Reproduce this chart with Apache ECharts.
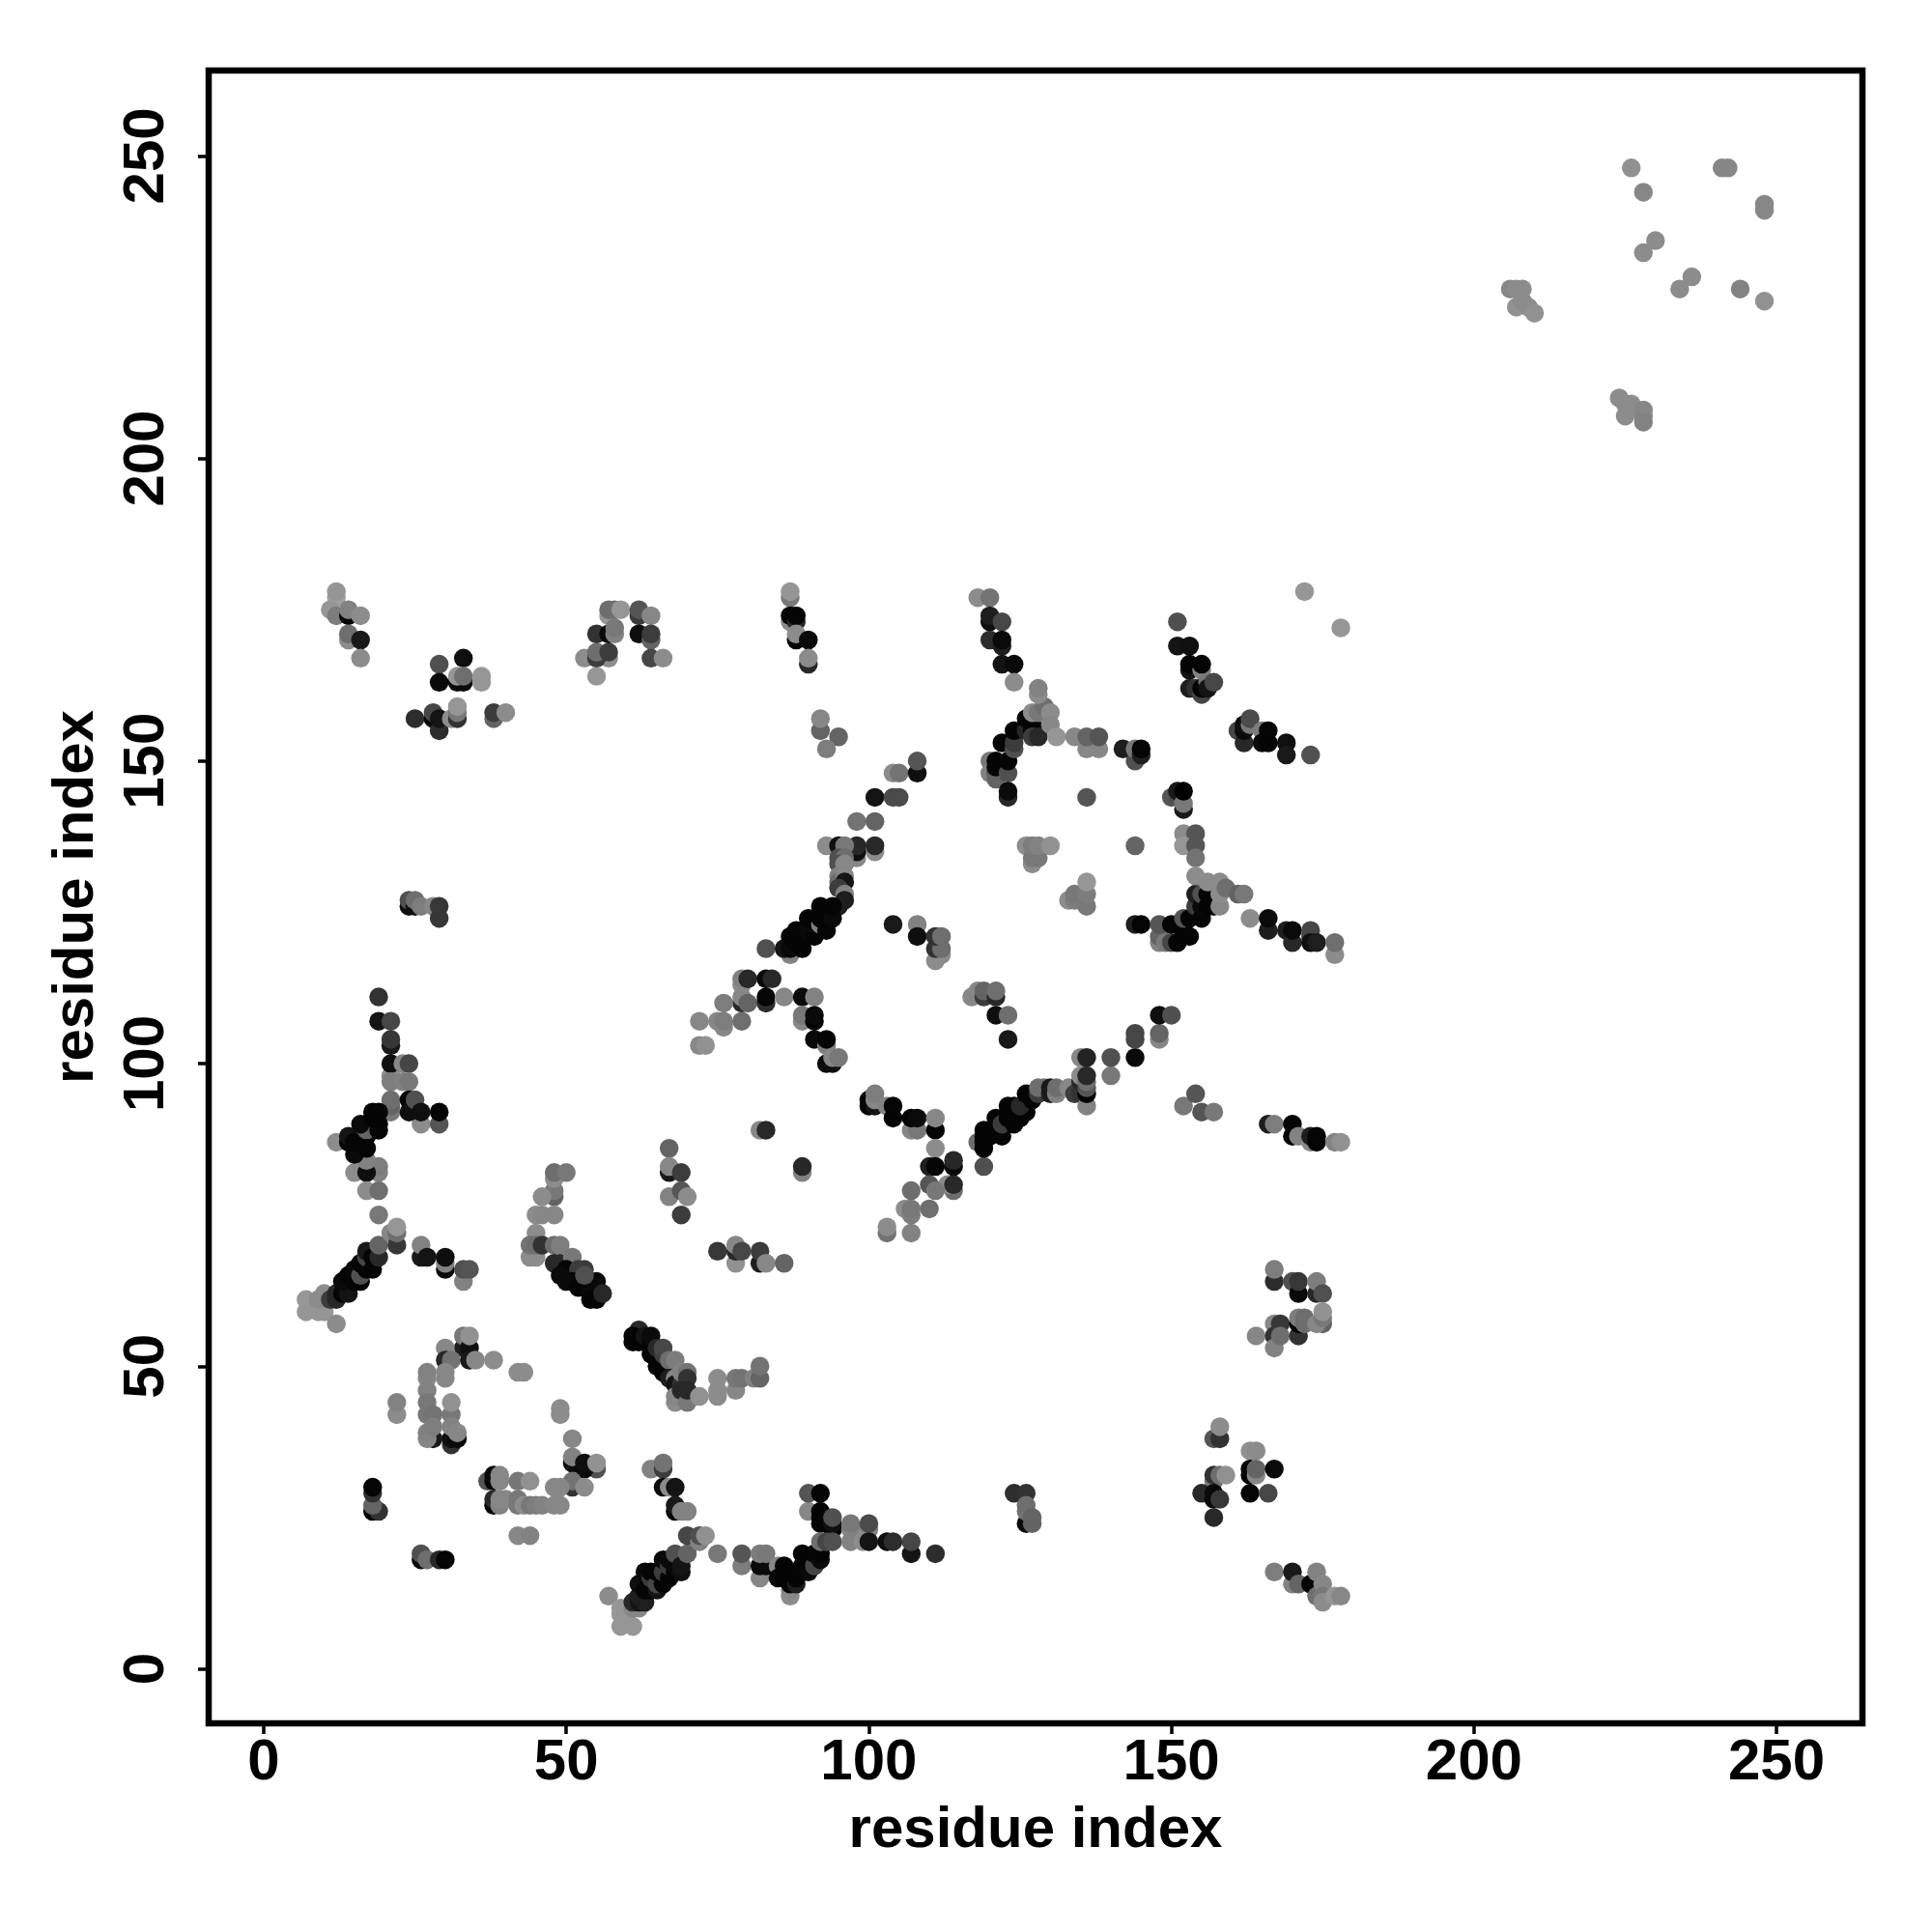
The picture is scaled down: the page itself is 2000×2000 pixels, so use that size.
<!DOCTYPE html>
<html><head><meta charset="utf-8">
<style>html,body{margin:0;padding:0;background:#fff}#c{width:2000px;height:2000px}</style>
<script src="https://cdn.jsdelivr.net/npm/echarts@6/dist/echarts.min.js"></script>
</head><body><div id="c"></div>
<script>
// each entry: [residue i, residue j, gray level] in drawing order
const tickLabels=[0,50,100,150,200,250];
const axisTitle='residue index';
const clusterTopLeft=[[12,177,150],[11,175,140],[12,174,115],[14,174,5],[14,175,120],[16,174,130],[12,178,140],[14,170,130],[14,171,100],[16,170,25],[16,167,130]];
const clusterA=[[33,167,15],[29,166,80],[29,163,10],[32,163,10],[33,163,10],[32,164,140],[33,164,100],[36,163,140],[36,164,140],[25,157,45],[28,157,5],[28,158,70],[29,155,45],[29,157,20],[31,157,130],[32,157,50],[32,158,110],[32,159,140],[38,157,90],[38,158,60],[40,158,130]];
const clusterB=[[53,167,130],[55,164,140],[57,167,130],[55,167,60],[55,168,100],[57,168,60],[55,171,50],[57,171,10],[57,174,140],[57,175,100],[58,175,100],[59,175,140],[58,171,120],[58,172,110],[62,174,60],[62,175,85],[64,174,125],[62,171,15],[64,170,90],[64,171,60],[64,167,70],[66,167,130]];
const clusterC=[[24,126,15],[24,127,80],[25,126,15],[25,127,100],[26,126,115],[28,126,125],[29,124,55],[29,126,55]];
const clusterD=[[87,177,110],[87,178,140],[87,173,130],[87,174,5],[88,173,40],[88,174,5],[88,170,5],[88,171,130],[90,170,10],[90,166,40],[90,167,130],[92,155,90],[92,157,125],[95,154,90],[93,152,115]];
const diagonalUpper=[[104,148,130],[105,148,105],[108,148,15],[108,150,85],[101,144,20],[104,144,75],[105,144,75],[98,140,105],[101,140,90],[101,135,130],[101,136,40],[93,136,130],[98,134,125],[98,135,15],[98,136,40],[95,136,15],[96,136,110],[95,134,80],[96,134,100],[95,133,80],[96,133,125],[95,131,120],[95,130,100],[96,131,125],[96,130,20],[95,129,60],[96,128,120],[96,127,30],[95,126,30],
 [83,119,80],[87,118,120],[86,119,20],[87,119,10],[89,119,5],[88,120,5],[87,121,5],[89,121,5],[88,122,5],[90,122,10],[91,121,5],[91,123,10],[90,124,5],[92,123,120],[92,124,5],[93,122,5],[93,125,5],[92,126,5],[94,124,10],[94,126,5]];
const clusterE=[[104,123,25],[108,123,120],[108,121,15],[111,117,130],[112,118,130],[111,119,50],[112,119,100],[111,121,50],[112,121,100]];
const clusterF=[[118,177,130],[120,177,105],[120,173,15],[120,174,30],[122,173,70],[120,170,45],[122,169,30],[122,170,10],[122,166,20],[124,166,10],[124,163,130],[151,173,80]];
const junctionUpper=[[120,150,110],[120,148,120],[121,148,80],[121,147,90],[121,150,5],[121,149,5],[122,153,5],[123,148,80],[123,150,5],[124,152,80],[124,153,60],[124,155,5],[126,155,40],[126,157,5],[127,155,5],[128,155,5],[127,154,60],[128,154,40],[127,158,130],[128,158,110],[129,159,100],[128,161,130],[128,162,120],[130,158,130],[130,156,125],[131,154,140],[134,154,125],[136,152,125],[138,152,125],[136,154,90],[138,154,85],[123,144,40],[123,145,10]];
const clusterG=[[142,152,30],[144,150,80],[144,152,110],[145,151,30],[145,152,5],[136,144,85],[151,169,20],[153,169,15],[153,165,20],[153,166,5],[155,165,120],[155,166,5],[153,162,30],[154,162,50],[155,161,70],[155,162,5],[156,163,110],[156,162,20],[157,163,70]];
const clusterH=[[161,155,70],[162,153,40],[162,155,10],[162,156,15],[163,156,110],[163,157,75],[165,155,115],[165,153,10],[166,153,5],[166,155,5],[169,153,15],[169,151,25],[173,151,80],[172,178,140],[178,172,140]];
const clusterI=[[150,144,85],[151,144,80],[151,145,25],[152,142,25],[152,143,110],[152,145,0],[152,138,130],[154,138,85],[152,136,140],[154,136,85],[154,134,105],[126,136,130],[127,133,130],[127,134,110],[128,134,110],[127,136,115],[128,136,120],[130,136,135],[144,136,90],[133,127,130],[134,127,115],[135,127,115],[134,128,110],[136,126,110],[136,128,115],[136,130,140]];
const junctionLower=[[144,123,30],[145,123,5],[148,120,120],[148,121,90],[148,123,85],[149,120,110],[150,120,70],[150,123,5],[151,120,5],[152,122,5],[152,124,85],[153,121,5],[153,124,5],[154,126,60],[154,128,30],[155,124,5],[155,126,10],[155,128,80],[156,126,5],[156,128,5],[157,126,5],[156,130,130],[154,131,130],[158,126,125],[158,128,130],[158,130,130],[159,129,100],[161,128,90],[162,128,110],[163,124,130],[166,122,30],[166,124,10],[169,122,30],[170,120,40],[170,122,10],[173,121,75],[173,122,70],[173,120,15],[174,120,30],[177,118,130],[177,120,100]];
const helixLeftUpper=[[19,111,50],[19,107,20],[21,107,70],[21,103,25],[21,104,55],[21,98,130],[21,100,15],[23,100,125],[24,100,70],[21,97,115],[23,97,120],[24,97,110],[21,92,110],[21,93,90],[21,94,100],[26,90,130],[29,90,85],[24,94,5],[24,92,15],[25,94,80],[26,92,15],[29,92,5],
 [12,87,130],[19,82,120],[19,83,115],[15,82,130],[17,82,15],[17,79,130],[19,79,100],[19,75,110],[17,84,120],[15,85,10],[14,87,5],[14,88,20],[15,87,5],[17,88,5],[17,89,90],[16,90,10],[18,91,5],[18,92,5],[19,92,5],[19,90,5],[19,89,5],[17,86,5]];
const clusterJ=[[48,78,90],[48,79,110],[48,81,130],[48,82,100],[50,82,110],[46,78,130],[45,75,130],[46,75,125],[48,75,125],[45,72,130],[44,68,130],[45,68,130],[44,70,105],[45,70,100],[46,70,50],[48,70,100],[49,70,115],[48,67,40],[49,67,40],[51,68,110],[50,66,5],[52,66,60],[53,66,60],[51,64,5],[53,64,5],[55,64,10],
 [49,65,10],[50,64,10],[52,63,5],[54,62,10],[54,61,5],[55,61,5],[56,62,40],[53,65,80]];
const helixLeftLower=[[7,59,140],[7,61,140],[9,59,140],[10,59,140],[9,61,130],[10,62,130],[12,57,130],[11,61,60],[12,61,40],[12,62,40],[13,62,5],[14,62,20],[13,64,10],[14,65,5],[15,64,5],[16,64,5],[15,66,10],[16,65,80],[16,67,5],[17,66,5],[17,68,70],[18,66,5],[18,69,10],[17,69,25],[18,68,5],[19,68,40],[19,70,90],[21,72,125],[22,70,55],[22,72,100],[22,73,140]];
const clusterK=[[26,68,25],[26,70,120],[27,68,20],[30,66,10],[30,67,120],[30,68,15],[33,64,120],[33,66,80],[34,66,85]];
const ringTop=[[33,53,30],[33,55,110],[34,53,15],[34,55,135],[30,53,125],[30,51,40],[31,51,105],[34,51,25],[35,51,125],[38,51,130],[42,49,130],[43,49,130],[27,48,125],[27,49,120],[30,48,125],[30,49,125],[27,46,120],[27,44,110],[27,42,110],[28,42,105],[31,42,110],[31,44,135],[22,42,130],[22,44,120],[49,42,130],[49,43,130],[51,38,125]];
const ringLower=[[28,38,25],[27,38,125],[27,39,120],[28,40,115],[31,37,50],[31,38,15],[32,38,10],[31,40,120],[32,39,125],[51,34,15],[51,35,120],[55,33,80],[53,33,10],[53,34,15],[55,34,135],[51,30,50],[51,31,105],[48,30,125],[49,30,125],[53,30,130],[37,31,85],[38,31,5],[38,32,10],[39,31,125],[39,32,125],[42,31,110],[44,31,135],[38,27,5],[38,28,40],[39,27,120],[39,28,125],[40,28,125],[42,27,110],[42,28,110],[43,27,130],[44,27,110],[45,27,115],[46,27,120],[48,27,125],[49,27,125],[42,22,125],[44,22,120]];
const clusterL=[[18,26,5],[19,26,50],[18,27,90],[18,29,50],[18,30,5],[26,18,10],[26,19,80],[27,18,100],[29,18,40],[30,18,5]];
const strandMid=[[62,56,40],[61,54,5],[61,55,5],[62,54,5],[63,55,20],[64,54,5],[64,55,10],[64,52,5],[65,53,40],[65,50,5],[66,50,5],[66,52,60],[66,53,70],[66,49,5],[67,51,100],[68,51,115],[67,48,30],[68,48,125],[68,47,20],[69,47,50],[69,49,120],[70,49,105],[70,48,50],[68,44,130],[68,45,125],[69,46,40],[70,44,110],[70,46,40],[72,45,135],[75,45,130],[75,46,130],[75,48,130],[78,46,125],[78,48,110],[79,48,105],[81,48,120],[82,48,90],[82,50,105]];
const clusterM=[[64,33,120],[66,33,60],[66,34,105],[66,30,10],[67,30,130],[68,30,20],[68,26,5],[68,27,25],[69,26,120],[70,26,120]];
const helixBottomLeft=[[57,12,130],[59,7,140],[61,7,140],[59,9,140],[59,10,140],[60,9,140],[61,10,125],[62,10,125],[61,11,40],[62,11,20],[62,12,30],[63,11,30],[62,14,15],[63,13,5],[64,13,5],[63,16,10],[64,15,60],[64,16,5],[65,13,20],[65,14,70],[65,16,5],[66,14,5],[66,16,60],[66,18,10],[67,15,5],[67,17,60],[67,18,10],[68,16,5],[68,17,10],[68,19,80],[69,16,15],[69,17,20],[70,19,90],[70,22,70],[72,21,120],[72,22,80],[73,22,135]];
const clusterN=[[75,19,110],[79,17,115],[79,19,85],[82,15,125],[82,17,10],[83,17,10],[82,19,115],[83,19,110],[85,17,125],[85,15,10],[86,15,5],[86,17,5],[87,12,130],[87,13,125],[87,14,5],[88,14,30],[87,16,5],[88,15,5],[89,17,5],[90,16,10],[90,18,5],[89,19,5],[91,17,70],[91,19,5],[92,18,10],[92,19,5]];
const clusterO=[[90,26,125],[90,29,85],[92,29,5],[92,24,5],[92,25,5],[92,26,5],[94,23,5],[94,24,15],[94,25,80],[92,21,100],[93,21,70],[94,21,80],[97,23,120],[97,24,110],[97,21,120],[99,21,130],[100,23,125],[100,24,75],[100,21,20],[103,21,15],[104,21,45],[107,19,20],[107,21,70],[111,19,45]];
const clusterP=[[79,113,130],[79,114,120],[80,114,40],[83,114,10],[84,114,40],[79,110,40],[79,111,125],[80,110,90],[83,110,45],[83,111,5],[86,111,125],[89,111,10],[91,111,120],[76,110,115],[72,107,125],[75,107,125],[76,106,125],[76,107,115],[79,107,100],[72,103,125],[73,103,135]];
const clusterQ=[[89,107,125],[89,108,110],[91,107,5],[91,108,10],[91,104,10],[93,103,115],[93,104,5],[93,100,10],[94,100,15],[94,101,125],[95,101,110],[82,89,125],[83,89,40],[89,82,120],[89,83,40]];
const clusterR=[[67,86,90],[67,82,25],[67,83,125],[69,82,60],[67,78,120],[69,79,85],[70,78,130],[69,75,60],[75,69,55],[78,67,135],[78,69,40],[78,70,125],[79,69,70],[82,67,30],[82,69,60],[83,67,125],[86,67,90]];
const clusterS=[[100,93,5],[100,94,5],[101,93,20],[101,94,125],[101,95,115],[103,93,120],[104,91,5],[104,93,5],[107,89,125],[108,89,110],[107,91,5],[108,91,10],[111,89,5],[111,91,125],[111,86,130],[110,83,30],[111,83,5],[114,83,10],[114,84,40],[114,79,100],[113,80,130],[114,80,40],[110,80,85],[111,79,110],[107,79,100],[106,76,130],[107,75,115],[107,76,110],[110,76,100],[103,72,105],[103,73,130],[107,72,120]];
const clusterT=[[117,111,125],[118,112,125],[119,111,60],[119,112,90],[121,111,40],[121,112,100],[121,108,15],[123,108,100],[123,104,25]];
const diagonalLower=[[118,87,100],[119,83,80],[119,86,5],[119,87,5],[119,88,5],[119,89,5],[120,88,5],[121,89,5],[121,91,5],[122,88,5],[122,90,60],[123,93,5],[123,91,5],[124,90,5],[124,93,5],[125,91,5],[126,92,5],[125,93,40],[126,95,5],[127,94,5],[128,95,60],[128,96,100],[129,96,100],[130,95,30],[130,96,25],[131,95,120],[131,96,100],[133,96,125],[134,95,60],[135,95,50],[135,97,40],[135,98,130],[136,93,120],[136,95,5],[136,96,85],[136,97,100],[136,98,40],[135,101,125],[136,101,35]];
const clusterU=[[140,98,110],[140,101,80],[144,101,10],[144,104,70],[144,105,70],[148,104,125],[148,105,90],[148,108,15],[150,108,80],[152,93,110],[154,95,85],[155,92,85],[157,92,110]];
const clusterV=[[166,90,30],[167,90,115],[170,88,5],[170,90,5],[171,88,120],[173,87,130],[173,88,30],[174,87,5],[174,88,5],[177,87,120],[178,87,135]];
const clusterW=[[167,64,45],[167,66,115],[170,64,80],[171,62,10],[171,64,55],[174,62,40],[174,64,115],[175,62,80],[164,55,125],[167,57,125],[167,55,50],[167,53,120],[168,57,55],[168,55,100],[171,55,50],[171,57,5],[171,58,115],[172,57,100],[172,58,100],[175,57,90],[174,57,125],[175,58,110],[175,59,135]];
const clusterX=[[157,38,85],[158,38,50],[158,40,130],[163,36,135],[164,36,130],[163,32,5],[163,33,5],[164,32,125],[164,33,90],[167,33,10],[163,29,5],[166,29,70],[157,31,110],[157,32,50],[158,32,100],[159,32,135],[155,29,40],[157,28,10],[157,29,10],[158,28,55],[157,25,40]];
const clusterY=[[124,29,45],[126,29,50],[126,24,10],[126,26,105],[126,27,100],[127,24,90],[127,25,90]];
const clusterZ=[[167,16,115],[170,14,120],[170,16,25],[171,14,90],[173,14,5],[174,16,120],[174,12,100],[175,14,125],[175,12,110],[175,11,130],[177,12,140],[178,12,125]];
const clusterFar=[[226,248,135],[228,244,125],[241,248,125],[242,248,125],[248,242,125],[248,241,125],[230,236,130],[228,234,130],[236,230,130],[234,228,130],[244,228,120],[248,226,135],[206,228,125],[207,228,130],[208,228,130],[207,225,135],[208,226,130],[209,225,130],[210,224,135],[224,210,130],[225,209,130],[226,209,130],[225,207,130],[227,208,130],[228,208,125],[228,207,125],[228,206,120]];

const allClusters=[clusterTopLeft,clusterA,clusterB,clusterC,clusterD,diagonalUpper,clusterE,clusterF,junctionUpper,clusterG,clusterH,clusterI,junctionLower,helixLeftUpper,clusterJ,helixLeftLower,clusterK,ringTop,ringLower,clusterL,strandMid,clusterM,helixBottomLeft,clusterN,clusterO,clusterP,clusterQ,clusterR,clusterS,clusterT,diagonalLower,clusterU,clusterV,clusterW,clusterX,clusterY,clusterZ,clusterFar];
function shade(g){const v=g>=90?g+10:g;return `rgb(${v},${v},${v})`;}
const points=allClusters.flat().map(p=>({value:[p[0],p[1]],itemStyle:{color:shade(p[2]),opacity:1}}));

const FONT='"Liberation Sans"';
function axis(min,max,gap,lblMargin){return{
 type:'value',min,max,name:axisTitle,nameLocation:'middle',nameGap:gap,
 nameTextStyle:{fontFamily:FONT,fontWeight:'bold',fontSize:60,color:'#000'},
 splitLine:{show:false},
 axisLine:{show:false,onZero:false},
 axisTick:{show:true,length:11,inside:false,lineStyle:{color:'#000',width:3.5},customValues:tickLabels},
 axisLabel:{show:true,margin:lblMargin,fontFamily:FONT,fontWeight:'bold',fontSize:60,color:'#000',customValues:tickLabels,hideOverlap:false}
};}
const chart=echarts.init(document.getElementById('c'),null,{renderer:'canvas',width:2000,height:2000});
const xa=axis(-9.1,264.2,81,11);
const ya=axis(-9.02,264.1,107,34);ya.axisLabel.rotate=90;
chart.setOption({
 animation:false,backgroundColor:'#fff',
 grid:{left:216,top:73,width:1712,height:1711,show:true,borderWidth:6.5,borderColor:'#000',backgroundColor:'#fff',containLabel:false},
 xAxis:xa,yAxis:ya,
 series:[{type:'scatter',symbol:'circle',symbolSize:19.5,data:points,clip:false,large:false,silent:true,progressive:0,z:3}]
});
</script></body></html>
